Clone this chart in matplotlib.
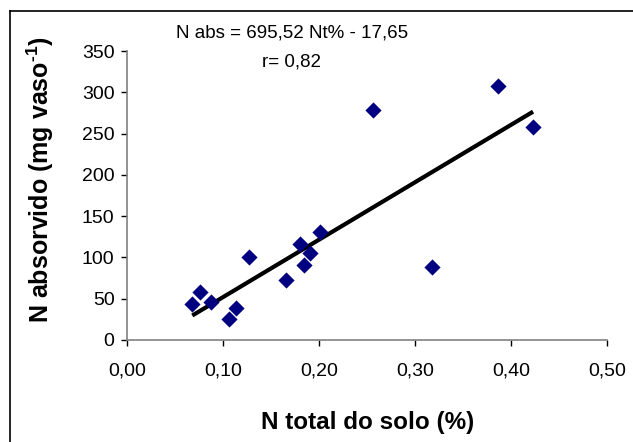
import numpy as np
import matplotlib.pyplot as plt
from matplotlib.lines import Line2D

plt.rcParams['font.family'] = ['Liberation Sans', 'DejaVu Sans']
plt.rcParams['mathtext.fontset'] = 'custom'
plt.rcParams['mathtext.bf'] = 'Liberation Sans:bold'
plt.rcParams['mathtext.rm'] = 'Liberation Sans'

# N total do solo (%) and N absorvido (mg vaso-1)
n_total = [0.068, 0.076, 0.087, 0.106, 0.114, 0.127, 0.166, 0.180, 0.184,
           0.191, 0.201, 0.256, 0.318, 0.386, 0.423]
n_abs = [43, 58, 46, 25, 39, 100, 73, 116, 91, 105, 131, 279, 89, 308, 258]

# regression from the chart's equation
slope = 695.52
intercept = -17.65

x_ticks = [0.0, 0.1, 0.2, 0.3, 0.4, 0.5]
x_labels = ['0,00', '0,10', '0,20', '0,30', '0,40', '0,50']
y_ticks = [0, 50, 100, 150, 200, 250, 300, 350]

fig = plt.figure(figsize=(6.33, 4.42), dpi=100)
ax = fig.add_axes([127 / 633, 102 / 442, 480 / 633, 289 / 442])

ax.scatter(n_total, n_abs, marker='D', s=68, color='#000080', zorder=3,
           linewidths=0)
xl = np.array([min(n_total), max(n_total)])
ax.plot(xl, slope * xl + intercept, color='black', lw=3, zorder=2,
        solid_capstyle='butt')

ax.set_xlim(0, 0.5)
ax.set_ylim(0, 350)
ax.set_xticks(x_ticks)
ax.set_xticklabels(x_labels)
ax.set_yticks(y_ticks)

for s in ['top', 'right']:
    ax.spines[s].set_visible(False)
for s in ['left', 'bottom']:
    ax.spines[s].set_color('#808080')
    ax.spines[s].set_linewidth(1.2)
ax.tick_params(axis='both', labelsize=14, color='black', length=4, width=1)
ax.tick_params(axis='x', pad=12)
ax.tick_params(axis='y', pad=5)

fig.text(0.461, 0.925, 'N abs = 695,52 Nt% - 17,65', ha='center', va='center',
         fontsize=13.5)
fig.text(0.461, 0.860, 'r= 0,82', ha='center', va='center', fontsize=13.5)

fig.text(0.0632, 0.594, 'N absorvido (mg vaso$^{\\mathbf{\u20101}}$)',
         rotation=90, ha='center', va='center', fontsize=18,
         fontweight='bold')
fig.text(0.581, 0.043, 'N total do solo (%)', ha='center', va='center',
         fontsize=17.5, fontweight='bold')

# outer chart frame (only top and left edges fall inside the picture)
fig.add_artist(Line2D([10 / 633, 10 / 633], [0, 431 / 442], color='black',
                      lw=1.2, transform=fig.transFigure))
fig.add_artist(Line2D([10 / 633, 1], [431 / 442, 431 / 442], color='black',
                      lw=1.2, transform=fig.transFigure))

fig.savefig('out.png', dpi=100)
